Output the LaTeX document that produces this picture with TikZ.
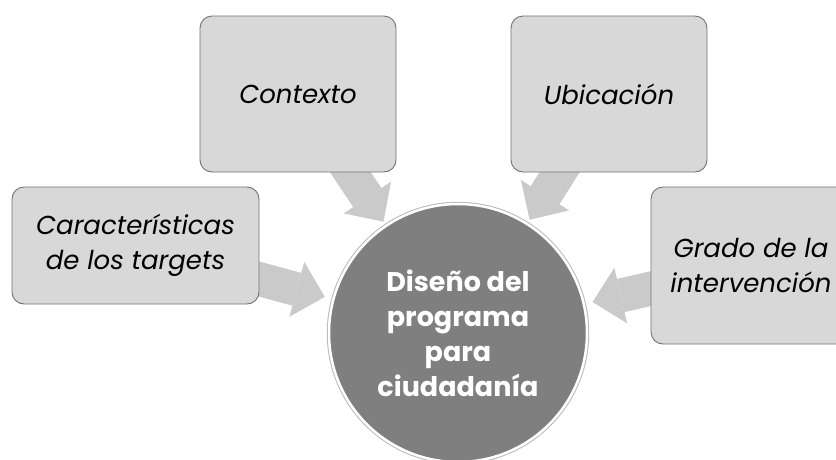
\documentclass[tikz,border=0pt]{standalone}
\usepackage{fontspec}
\setmainfont{Poppins}
\usetikzlibrary{arrows.meta,calc,backgrounds}
\definecolor{boxfill}{HTML}{D8D8D8}
\definecolor{boxline}{HTML}{727272}
\definecolor{arrowgray}{HTML}{CACACA}
\definecolor{circfill}{HTML}{7F7F7F}
\tikzset{
  outerbox/.style={rectangle, rounded corners=12pt, fill=boxfill, draw=boxline,
    line width=0.9pt, align=center, inner sep=0pt,
    font=\fontsize{26}{35}\selectfont\itshape, text=black},
  hubcircle/.style={circle, fill=circfill, draw=white, line width=2.5pt,
    preaction={draw=black!28, line width=4.5pt},
    minimum size=258pt, inner sep=0pt, align=center,
    font=\fontsize{27}{35}\selectfont\bfseries, text=white},
  blockarrow/.style={draw=arrowgray, line width=34pt,
    -{Triangle[width=57pt,length=29pt,line width=0pt]}}
}
\begin{document}
\begin{tikzpicture}[x=1pt,y=-1pt]
\useasboundingbox (0,0) rectangle (836,459);
\node[outerbox, minimum width=196pt, minimum height=156pt] (ctx) at (298,94) {Contexto};
\node[outerbox, minimum width=196pt, minimum height=156pt] (ubi) at (609,94) {Ubicación};
\node[outerbox, minimum width=247pt, minimum height=117pt] (car) at (135.5,245.5) {Características\\de los targets};
\node[outerbox, minimum width=200pt, minimum height=157pt] (gra) at (751,265.5) {Grado de la\\intervención};
\node[hubcircle] (hub) at (458,333) {Diseño del\\programa\\para\\ciudadanía};
\coordinate (tctx) at ($(hub.center)!134pt!(ctx.center)$);
\coordinate (tubi) at ($(hub.center)!134pt!(ubi.center)$);
\coordinate (tcar) at ($(hub.center)!138pt!(car.center)$);
\coordinate (tgra) at ($(hub.center)!138pt!(gra.center)$);
\begin{scope}[on background layer]
\draw[blockarrow] (ctx.center) -- (tctx);
\draw[blockarrow] (ubi.center) -- (tubi);
\draw[blockarrow] (car.center) -- (tcar);
\draw[blockarrow] (gra.center) -- (tgra);
\end{scope}
\end{tikzpicture}
\end{document}
